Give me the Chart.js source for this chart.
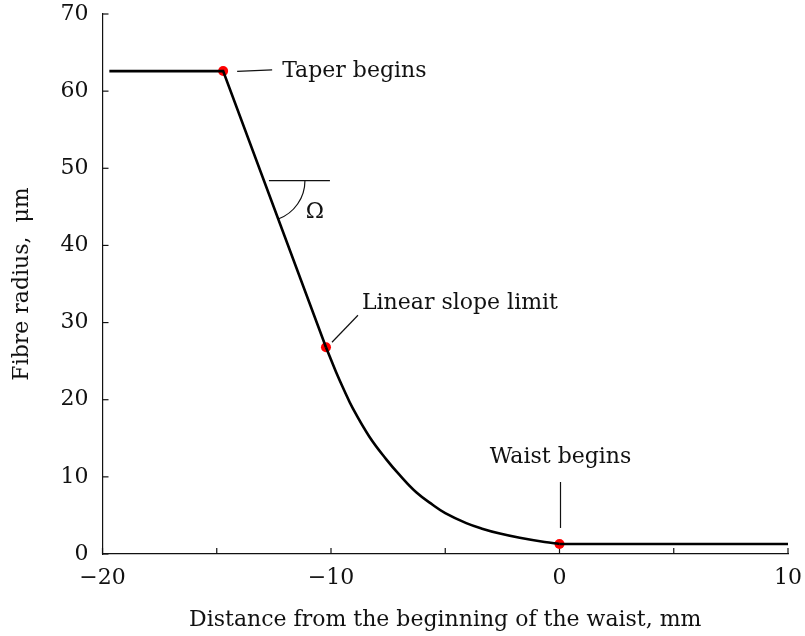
<!DOCTYPE html>
<html>
<head>
<meta charset="utf-8">
<script src="https://cdn.jsdelivr.net/npm/chart.js@4"></script>
<style>
  body { margin: 0; background: #fff; }
  #wrap { width: 805px; height: 636px; }
</style>
</head>
<body>
<div id="wrap"><canvas id="chart"></canvas></div>
<script>
// Fibre profile, values
const taperX = [-19.7, -14.72, -10.22];
const taperY = [62.6, 62.6, 26.8];
const neckX = [-10.22, -9.78, -9.42, -9.05, -8.32, -7.59, -7.0, -6.27, -5.54, -5.0, -4.08, -3.35, -2.61, -1.74, -0.65, 0];
const neckY = [26.8, 23.6, 21.2, 18.9, 15.2, 12.3, 10.25, 8.0, 6.35, 5.3, 4.0, 3.25, 2.65, 2.1, 1.55, 1.3];
const waistX = [0, 10];
const waistY = [1.3, 1.3];

// Marked points and their labels
const markX = [-14.72, -10.22, 0];
const markY = [62.6, 26.8, 1.3];
const markLabels = ['Taper begins', 'Linear slope limit', 'Waist begins'];

// Axis ticks
const xMinor = [-20, -15, -10, -5, 0, 5, 10];
const yMinor = [0, 10, 20, 30, 40, 50, 60, 70];
const angleAtY = 48.4; // height of the Ω angle mark on the slope

const FONT = "'DejaVu Serif', serif";
const pts = (xs, ys) => xs.map((x, i) => ({ x: x, y: ys[i] }));

Chart.defaults.font.family = FONT;
Chart.defaults.font.size = 22;
Chart.defaults.color = '#111';

// leader lines / label offsets in pixels from each marked point
const leaders = [
  { from: [14, 0.3], to: [49, -1.3], text: [59, 0], align: 'left' },
  { from: [6, -5], to: [32, -32], text: [36, -44], align: 'left' },
  { from: [1, -16], to: [1, -62], text: [1, -87], align: 'center' }
];

const annotate = {
  id: 'annotate',
  beforeDatasetsDraw(chart) {
    const { ctx, scales: { x, y } } = chart;
    ctx.save();
    ctx.strokeStyle = '#111';
    ctx.lineWidth = 1.2;
    // inward tick marks
    xMinor.forEach(v => {
      const px = x.getPixelForValue(v);
      ctx.beginPath();
      ctx.moveTo(px, y.bottom);
      ctx.lineTo(px, y.bottom - 6);
      ctx.stroke();
    });
    yMinor.forEach(v => {
      const py = y.getPixelForValue(v);
      ctx.beginPath();
      ctx.moveTo(x.left, py);
      ctx.lineTo(x.left + 6, py);
      ctx.stroke();
    });

    // leaders and labels
    ctx.font = '22px ' + FONT;
    ctx.fillStyle = '#111';
    ctx.textBaseline = 'middle';
    markX.forEach((mx, i) => {
      const px = x.getPixelForValue(mx);
      const py = y.getPixelForValue(markY[i]);
      const l = leaders[i];
      ctx.beginPath();
      ctx.moveTo(px + l.from[0], py + l.from[1]);
      ctx.lineTo(px + l.to[0], py + l.to[1]);
      ctx.stroke();
      ctx.textAlign = l.align;
      ctx.fillText(markLabels[i], px + l.text[0], py + l.text[1]);
    });

    // Ω angle mark on the linear slope
    const x0 = x.getPixelForValue(taperX[1]), y0 = y.getPixelForValue(taperY[1]);
    const x1 = x.getPixelForValue(taperX[2]), y1 = y.getPixelForValue(taperY[2]);
    const cy = y.getPixelForValue(angleAtY);
    const cx = x0 + (x1 - x0) * (cy - y0) / (y1 - y0);
    const ang = Math.atan2(y1 - y0, x1 - x0);
    ctx.beginPath();
    ctx.moveTo(cx + 5, cy);
    ctx.lineTo(cx + 66, cy);
    ctx.stroke();
    ctx.beginPath();
    ctx.arc(cx, cy, 41, 0, ang);
    ctx.stroke();
    ctx.textAlign = 'center';
    ctx.fillText('\u03A9', cx + 51, cy + 32);
    ctx.restore();
  }
};

const lineStyle = { borderColor: '#000', borderWidth: 2.6, pointRadius: 0, fill: false };

// pin the plot area to where it sits in the picture
const noPad = s => { s.paddingTop = 0; s.paddingBottom = 0; s.paddingLeft = 0; s.paddingRight = 0; };

new Chart(document.getElementById('chart'), {
  type: 'line',
  data: {
    datasets: [
      Object.assign({ data: pts(taperX, taperY), tension: 0 }, lineStyle),
      Object.assign({ data: pts(neckX, neckY), tension: 0.4 }, lineStyle),
      Object.assign({ data: pts(waistX, waistY), tension: 0 }, lineStyle),
      {
        data: pts(markX, markY),
        showLine: false,
        pointRadius: 5,
        pointBackgroundColor: '#f00',
        pointBorderWidth: 0,
        pointBorderColor: '#f00'
      }
    ]
  },
  options: {
    responsive: true,
    maintainAspectRatio: false,
    animation: false,
    layout: { padding: { left: 0, right: 17, top: 14, bottom: 0 } },
    plugins: { legend: { display: false }, tooltip: { enabled: false } },
    scales: {
      x: {
        type: 'linear',
        min: -20,
        max: 10,
        grid: { display: false, drawTicks: false },
        border: { display: true, color: '#111', width: 1.2 },
        ticks: {
          stepSize: 10,
          padding: 11,
          callback: v => v < 0 ? '\u2212' + Math.abs(v) : String(v)
        },
        title: { display: true, text: 'Distance from the beginning of the waist, mm', padding: { top: 0, bottom: 3 } },
        afterFit: s => { noPad(s); s.height = 82; }
      },
      y: {
        min: 0,
        max: 70,
        grid: { display: false, drawTicks: false },
        border: { display: true, color: '#111', width: 1.2 },
        ticks: { stepSize: 10, padding: 14 },
        title: { display: true, text: 'Fibre radius,  \u03BCm', padding: { top: 9, bottom: 0 } },
        afterFit: s => { noPad(s); s.width = 102.5; }
      }
    }
  },
  plugins: [annotate]
});
</script>
</body>
</html>
